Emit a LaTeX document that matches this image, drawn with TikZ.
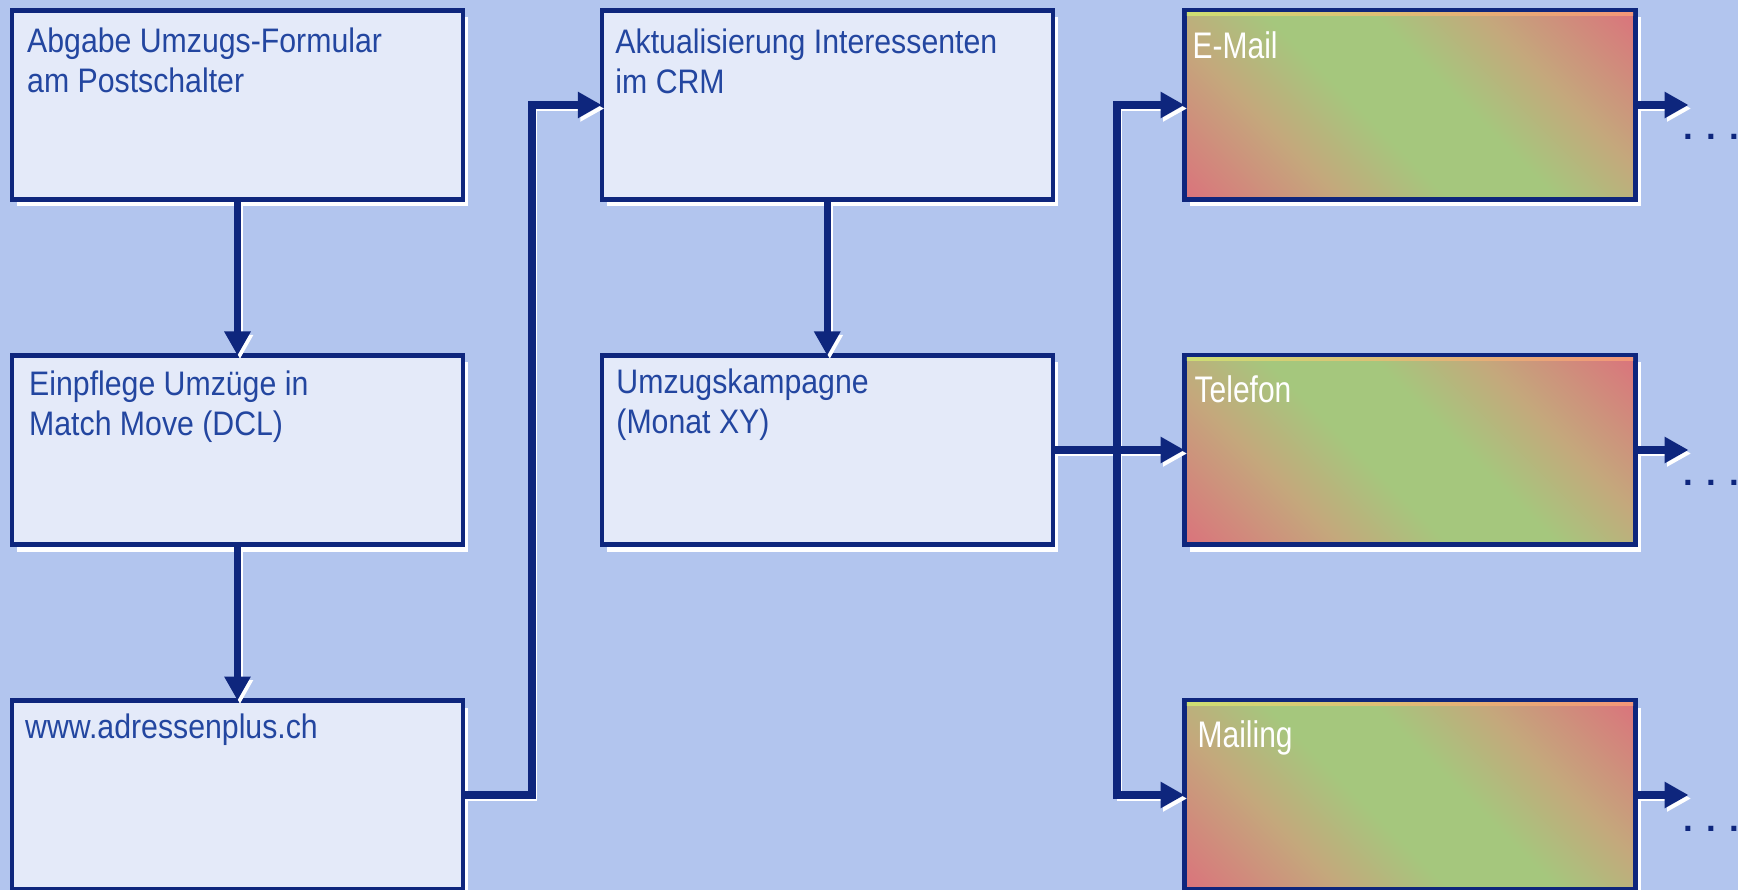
\documentclass[tikz,border=0pt]{standalone}
\usepackage{fontspec}
\setmainfont{Liberation Sans}
\newfontfamily\bluefont[FakeStretch=0.89]{Liberation Sans}
\newfontfamily\whitefont[FakeStretch=0.81]{Liberation Sans}
\usetikzlibrary{arrows.meta,shadows,calc}
\definecolor{bg}{RGB}{178,197,238}
\definecolor{boxfill}{RGB}{228,234,249}
\definecolor{navy}{RGB}{14,38,125}
\definecolor{textblue}{RGB}{35,70,160}
\definecolor{gred}{RGB}{218,116,124}
\definecolor{gtan}{RGB}{196,168,124}
\definecolor{ggreen}{RGB}{165,199,125}
\definecolor{stripL}{RGB}{205,222,115}
\definecolor{stripR}{RGB}{242,150,120}
\pgfdeclarehorizontalshading{diagrg}{100bp}{color(0bp)=(gred); color(15bp)=(gred); color(32bp)=(gtan); color(44bp)=(ggreen); color(56bp)=(ggreen); color(68bp)=(gtan); color(85bp)=(gred); color(100bp)=(gred)}
\begin{document}
\begin{tikzpicture}[x=1pt,y=-1pt,
  box/.style={draw=navy, line width=4.5pt, minimum width=451pt, minimum height=189pt,
    inner sep=0pt, outer sep=0pt,
    drop shadow={shadow xshift=5pt, shadow yshift=-7pt, fill=white, opacity=1}},
  bluebox/.style={box, fill=boxfill},
  gradbox/.style={box, shading=diagrg, shading angle=45},
  btext/.style={anchor=north west, inner sep=0pt, align=left, text=textblue,
    font=\bluefont\fontsize{34}{40}\selectfont},
  wtext/.style={anchor=north west, inner sep=0pt, align=left, text=white,
    font=\whitefont\fontsize{37}{44}\selectfont},
  conn/.style={draw=navy, line width=7.5pt, line join=miter, -{Triangle[length=24pt,width=25pt]}},
  connsh/.style={draw=white, line width=5.5pt, line join=miter, -{Triangle[length=24pt,width=25pt]}},
  dots/.style={anchor=base west, inner sep=0pt, text=navy, font=\bfseries\fontsize{35}{40}\selectfont}
]
\fill[bg] (0,0) rectangle (1738,890);
\useasboundingbox (0,0) rectangle (1738,890);

% boxes
\node[bluebox] (b1) at (237.5,105) {};
\node[bluebox] (b2) at (237.5,450) {};
\node[bluebox] (b3) at (237.5,795) {};
\node[bluebox] (b4) at (827.25,105) {};
\node[bluebox] (b5) at (827.25,450) {};
\node[gradbox] (b6) at (1410,105) {};
\node[gradbox] (b7) at (1410,450) {};
\node[gradbox] (b8) at (1410,795) {};

% top highlight strips of gradient boxes
\foreach \b in {b6,b7,b8}{
  \shade[left color=stripL, right color=stripR]
    ($(\b.north west)+(2.3,2.3)$) rectangle ($(\b.north east)+(-2.3,5.3)$);
}

% texts
\node[btext] (t1) at ($(b1.north west)+(15,17)$) {Abgabe Umzugs-Formular\\am Postschalter};
\node[btext] (t2) at ($(b2.north west)+(17,15)$) {Einpflege Umzüge in\\Match Move (DCL)};
\node[btext] (t3) at ($(b3.north west)+(13,13)$) {www.adressenplus.ch};
\node[btext] (t4) at ($(b4.north west)+(13.5,18)$) {Aktualisierung Interessenten\\im CRM};
\node[btext] (t5) at ($(b5.north west)+(14.5,13)$) {Umzugskampagne\\(Monat XY)};
\node[wtext] (t6) at ($(b6.north west)+(8,21)$) {E-Mail};
\node[wtext] (t7) at ($(b7.north west)+(10,20)$) {Telefon};
\node[wtext] (t8) at ($(b8.north west)+(13,20)$) {Mailing};

% junction / free-end coordinates
\coordinate (v1) at (532,450);
\coordinate (split) at (1117,450);
\coordinate (o6) at ($(b6.east)+(53,0)$);
\coordinate (o7) at ($(b7.east)+(53,0)$);
\coordinate (o8) at ($(b8.east)+(53,0)$);

% connector shadows
\begin{scope}[transform canvas={xshift=2.5pt,yshift=-3.5pt}]
\draw[connsh] (b1.south) -- (b2.north);
\draw[connsh] (b2.south) -- (b3.north);
\draw[connsh] (b3.east) -| (v1) |- (b4.west);
\draw[connsh] (b4.south) -- (b5.north);
\draw[connsh] (b5.east) -- (b7.west);
\draw[connsh] (split) |- (b6.west);
\draw[connsh] (split) |- (b8.west);
\draw[connsh] (b6.east) -- (o6);
\draw[connsh] (b7.east) -- (o7);
\draw[connsh] (b8.east) -- (o8);
\end{scope}

% connectors
\draw[conn] (b1.south) -- (b2.north);
\draw[conn] (b2.south) -- (b3.north);
\draw[conn] (b3.east) -| (v1) |- (b4.west);
\draw[conn] (b4.south) -- (b5.north);
\draw[conn] (b5.east) -- (b7.west);
\draw[conn] (split) |- (b6.west);
\draw[conn] (split) |- (b8.west);
\draw[conn] (b6.east) -- (o6);
\draw[conn] (b7.east) -- (o7);
\draw[conn] (b8.east) -- (o8);

% continuation dots
\node[dots] (d6) at ($(o6)+(-5,35)$) {. . .};
\node[dots] (d7) at ($(o7)+(-5,35)$) {. . .};
\node[dots] (d8) at ($(o8)+(-5,36)$) {. . .};
\end{tikzpicture}
\end{document}
